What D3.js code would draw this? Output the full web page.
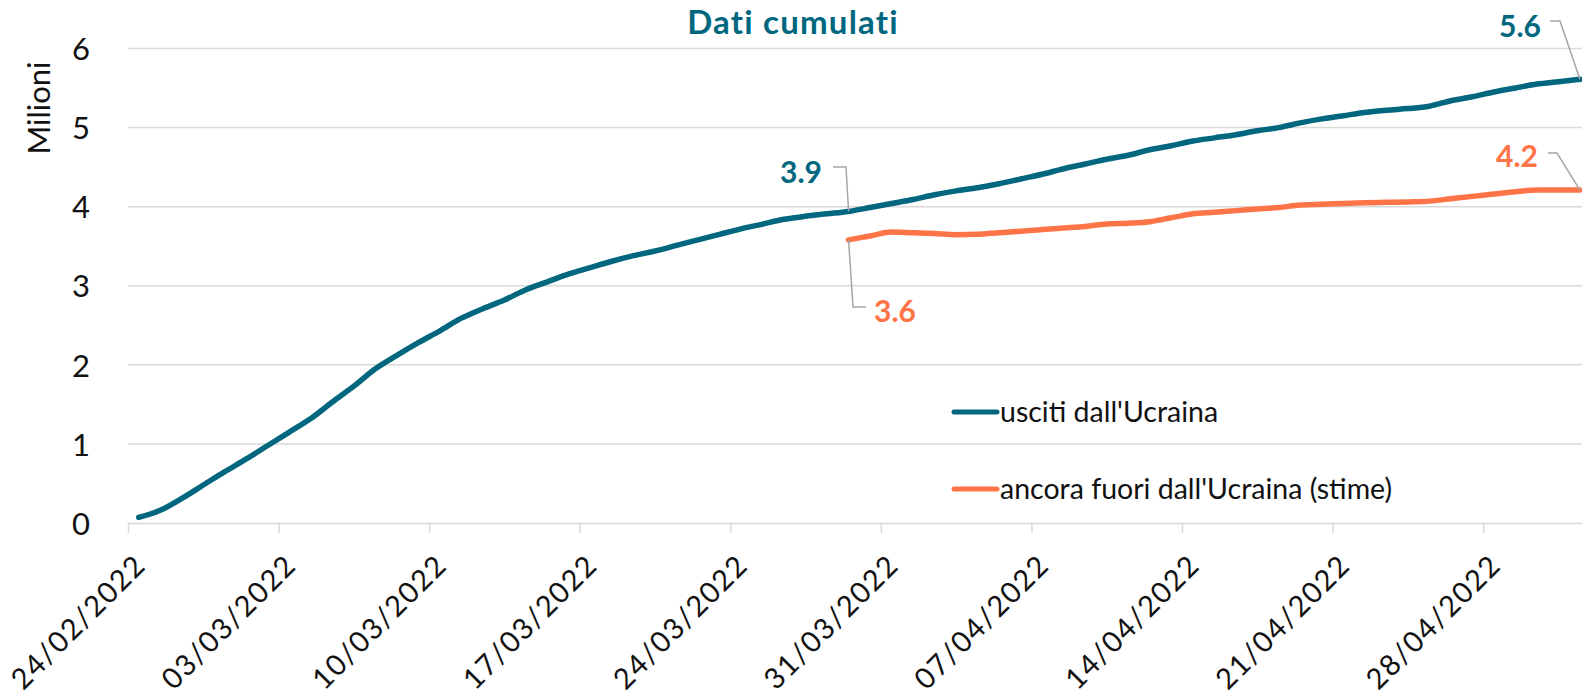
<!DOCTYPE html>
<html>
<head>
<meta charset="utf-8">
<script src="https://cdn.jsdelivr.net/npm/d3@7"></script>
<style>
  body { margin: 0; background: #fff; }
  svg { display: block; font-family: Lato, "Open Sans", sans-serif; }
</style>
</head>
<body>
<svg id="chart" width="1582" height="695"></svg>
<script>
// first day of the series, one value per day
const startDay = "2022-02-24"
const usciti = [0.07, 0.16, 0.31, 0.48, 0.65, 0.81, 0.98, 1.15, 1.32, 1.53,
  1.73, 1.95, 2.12, 2.28, 2.43, 2.59, 2.71, 2.82, 2.95, 3.05,
  3.15, 3.23, 3.31, 3.38, 3.44, 3.51, 3.58, 3.65, 3.72, 3.78,
  3.84, 3.88, 3.91, 3.94, 3.99, 4.04, 4.09, 4.15, 4.20, 4.24,
  4.29, 4.35, 4.41, 4.48, 4.54, 4.60, 4.65, 4.72, 4.77, 4.83,
  4.87, 4.91, 4.96, 5.00, 5.06, 5.11, 5.15, 5.19, 5.22, 5.24,
  5.27, 5.34, 5.39, 5.45, 5.50, 5.55, 5.58, 5.61]
// estimates start on day 33 (29/03)
const fuoriStart = 33
const fuori = [3.58, 3.63, 3.68, 3.67, 3.66, 3.645, 3.65, 3.67, 3.69, 3.71,
  3.73, 3.75, 3.78, 3.79, 3.81, 3.86, 3.91, 3.93, 3.95, 3.97,
  3.99, 4.02, 4.03, 4.04, 4.05, 4.055, 4.06, 4.07, 4.10, 4.13,
  4.16, 4.19, 4.21, 4.21, 4.21]
const tickDays = ["2022-02-24", "2022-03-03", "2022-03-10", "2022-03-17", "2022-03-24",
  "2022-03-31", "2022-04-07", "2022-04-14", "2022-04-21", "2022-04-28"]
const yTicks = [0, 1, 2, 3, 4, 5, 6]
const seriesNames = ["usciti dall'Ucraina", "ancora fuori dall'Ucraina (stime)"]
const colors = ["#00677f", "#ff7447"]

const svg = d3.select("#chart")
const parse = d3.utcParse("%Y-%m-%d")
const fmt = d3.utcFormat("%d/%m/%Y")
const t0 = parse(startDay)

// every day is a slot, the point sits in the middle of it
const x = d3.scaleUtc()
  .domain([t0, d3.utcDay.offset(t0, 68)])
  .range([128, 128 + 68 * 21.51])
const y = d3.scaleLinear().domain([0, 6]).range([523, 48.5])
const mid = i => x(d3.utcHour.offset(d3.utcDay.offset(t0, i), 12))

const dataU = usciti.map((v, i) => ({i: i, v: v}))
const dataF = fuori.map((v, i) => ({i: i + fuoriStart, v: v}))

// grid
svg.append("g")
  .selectAll("line")
  .data(yTicks.slice(1))
  .enter()
  .append("line")
  .attr("x1", 128).attr("x2", 1582)
  .attr("y1", d => y(d)).attr("y2", d => y(d))
  .attr("stroke", "#d9d9d9").attr("stroke-width", 1.5)

// y axis labels
const yAxis = svg.append("g")
  .attr("transform", "translate(90,0)")
  .call(d3.axisLeft(y).tickValues(yTicks).tickFormat(d3.format("d")).tickSize(0).tickPadding(0))
yAxis.attr("font-family", null).attr("font-size", null)
yAxis.select(".domain").remove()
yAxis.selectAll("text").style("font-size", "31px").attr("fill", "#111").attr("dy", "0.36em")

svg.append("text")
  .attr("transform", "translate(50,108) rotate(-90)")
  .attr("text-anchor", "middle")
  .style("font-size", "31px")
  .attr("fill", "#111")
  .text("Milioni")

// x axis
const xAxis = svg.append("g")
  .attr("transform", "translate(0,523)")
  .call(d3.axisBottom(x)
    .tickValues(tickDays.map(parse))
    .tickFormat(fmt)
    .tickSize(10)
    .tickSizeOuter(0))
xAxis.attr("font-family", null).attr("font-size", null)
xAxis.select(".domain").attr("stroke", "#d9d9d9").attr("stroke-width", 1.5)
  .attr("d", "M128,0.5H1582")
xAxis.selectAll(".tick line").attr("stroke", "#d9d9d9").attr("stroke-width", 1.5)
xAxis.selectAll(".tick text")
  .style("font-size", "29px")
  .style("letter-spacing", "1.5px")
  .attr("fill", "#111")
  .attr("text-anchor", "end")
  .attr("x", 0).attr("y", 0).attr("dy", "0")
  .attr("transform", "translate(19,44) rotate(-45)")

// lines
const line = d3.line()
  .x(d => mid(d.i))
  .y(d => y(d.v))
  .curve(d3.curveMonotoneX)

svg.append("path").datum(dataU)
  .attr("d", line).attr("fill", "none")
  .attr("stroke", colors[0]).attr("stroke-width", 5.5).attr("stroke-linecap", "round")
svg.append("path").datum(dataF)
  .attr("d", line).attr("fill", "none")
  .attr("stroke", colors[1]).attr("stroke-width", 5.5).attr("stroke-linecap", "round")

// title
svg.append("text")
  .attr("x", 793).attr("y", 34)
  .attr("text-anchor", "middle")
  .style("font-size", "33px").style("font-weight", "bold")
  .style("letter-spacing", "1.2px")
  .attr("fill", colors[0])
  .text("Dati cumulati")

// data labels with leader lines
const labels = [
  {d: dataU[fuoriStart], c: colors[0], lx: 822, ly: 183, p: [[833, 167], [846, 167]]},
  {d: dataU[dataU.length - 1], c: colors[0], lx: 1541, ly: 37, p: [[1550, 21], [1560, 21]]},
  {d: dataF[0], c: colors[1], lx: 874, ly: 322, p: [[866, 307], [853, 307]], start: true},
  {d: dataF[dataF.length - 1], c: colors[1], lx: 1538, ly: 167, p: [[1548, 153], [1557, 153]]}
]
labels.forEach(l => {
  const pts = l.p.concat([[mid(l.d.i), y(l.d.v)]])
  svg.append("path")
    .attr("d", d3.line()(pts))
    .attr("fill", "none").attr("stroke", "#a6a6a6").attr("stroke-width", 1.5)
  svg.append("text")
    .attr("x", l.lx).attr("y", l.ly)
    .attr("text-anchor", l.start ? "start" : "end")
    .style("font-size", "30px").style("font-weight", "bold")
    .attr("fill", l.c)
    .text(d3.format(".1f")(l.d.v))
})

// legend
const legend = svg.append("g")
  .selectAll("g")
  .data(seriesNames)
  .enter()
  .append("g")
  .attr("transform", (d, i) => `translate(954,${412 + i * 77})`)
legend.append("line")
  .attr("x1", 0).attr("x2", 43)
  .attr("stroke", (d, i) => colors[i]).attr("stroke-width", 5).attr("stroke-linecap", "round")
legend.append("text")
  .attr("x", 46).attr("dy", "0.35em")
  .style("font-size", "28.5px")
  .attr("fill", "#111")
  .text(d => d)
</script>
</body>
</html>
